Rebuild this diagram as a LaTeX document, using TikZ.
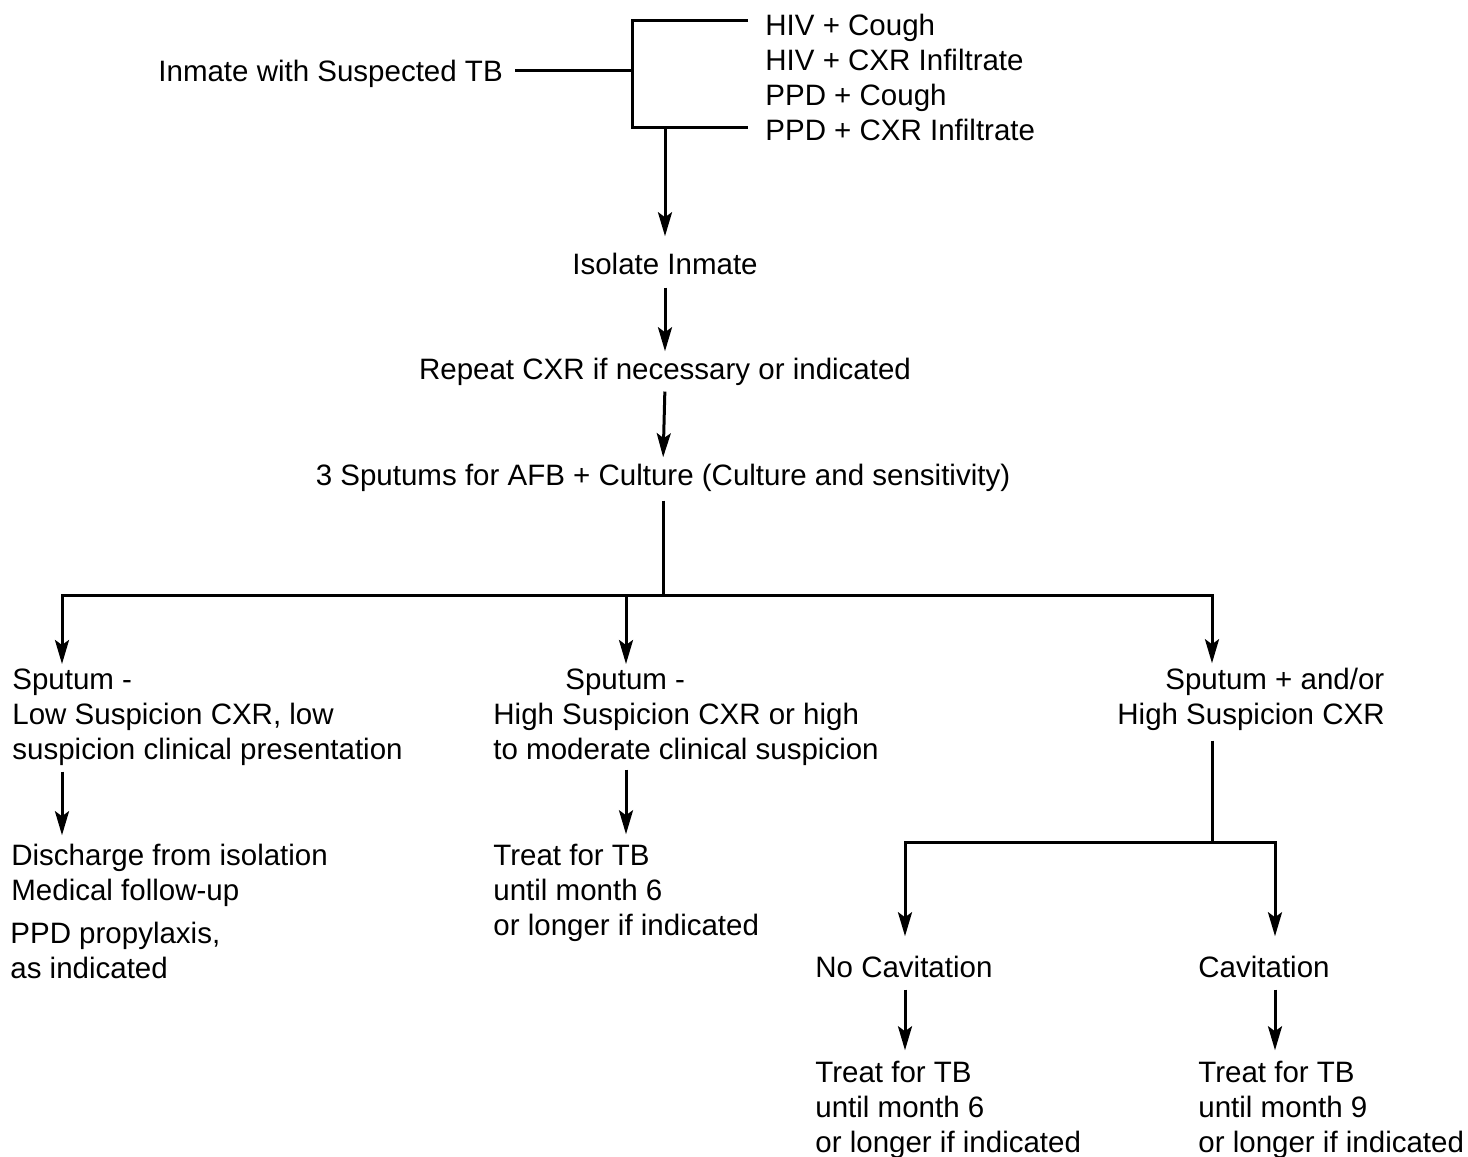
\documentclass[tikz,border=0pt]{standalone}
\usepackage{fontspec}
\setmainfont{Liberation Sans}
\usetikzlibrary{calc}
\usetikzlibrary{arrows.meta}

\begin{document}
\begin{tikzpicture}[x=0.5pt,y=-0.5pt,
  txt/.style={font=\fontsize{14.75pt}{17.5pt}\selectfont, inner sep=0pt, align=left, anchor=base west},
  ln/.style={line width=1.5pt},
  arr/.style={ln, -{Stealth[length=12pt,width=7pt,inset=2.5pt]}, shorten <=3pt, shorten >=3pt}]
\useasboundingbox (0,0) rectangle (1468,1157);

% texts (base of a block = its last line)
\node[txt] (inmate) at (158,81) {Inmate with Suspected TB};
\foreach \t [count=\i] in {HIV + Cough, HIV + CXR Infiltrate, PPD + Cough, PPD + CXR Infiltrate}
\node[txt] (c\i) at (765,{35+35*(\i-1)}) {\t};

\node[txt, anchor=base] (iso) at (665,274) {Isolate Inmate};
\node[txt, anchor=base] (rep) at (665,379) {Repeat CXR if necessary or indicated};
\node[txt, anchor=base] (spt) at (663,485) {3 Sputums for AFB + Culture (Culture and sensitivity)};

\node[txt] (low) at (12,759) {Sputum -\\Low Suspicion CXR, low\\suspicion clinical presentation};
\node[txt] (mid) at (493,759) {\hspace*{36pt}Sputum -\\High Suspicion CXR or high\\to moderate clinical suspicion};
\node[txt] (high) at (1117,724) {\hspace*{24pt}Sputum + and/or\\High Suspicion CXR};

\node[txt] (disc) at (11,900) {Discharge from isolation\\Medical follow-up};
\node[txt] (ppd) at (10,978) {PPD propylaxis,\\as indicated};
\node[txt] (trm) at (493,935) {Treat for TB\\until month 6\\or longer if indicated};

\node[txt] (nocav) at (815,977) {No Cavitation};
\node[txt] (cav) at (1198,977) {Cavitation};
\node[txt] (tr6) at (815,1152) {Treat for TB\\until month 6\\or longer if indicated};
\node[txt] (tr9) at (1198,1152) {Treat for TB\\until month 9\\or longer if indicated};

% junctions
\coordinate (brkT) at (632,20);
\coordinate (brkM) at (632,70.5);
\coordinate (brkB) at (632,127);
\coordinate (dn) at (iso.north |- brkB);
\coordinate (colL) at (62,595);
\coordinate (colM) at (626,595);
\coordinate (colR) at (1212,595);
\coordinate (hub) at (spt.south |- colL);
\coordinate (fork) at (1212,842);
\coordinate (colA) at (905,842);
\coordinate (colB) at (1275,842);

% connectors
\draw[ln, shorten <=6pt] (inmate.east |- brkM) -- (brkM);
\draw[ln, shorten <=8.5pt, shorten >=8.5pt] (c1.west |- brkT) -| (brkB) -- (c4.west |- brkB);
\draw[arr, shorten <=0pt, shorten >=8pt] (dn) -- (iso.north);
\draw[arr, shorten <=6.5pt] (iso.south) -- (rep.north);
\draw[arr] (rep.south) -- (spt.north);
\draw[ln, shorten <=4.5pt] (spt.south) -- (hub);
\draw[arr, shorten <=0pt, shorten >=2pt] (hub) -| (low.north -| colL);
\draw[arr, shorten <=0pt, shorten >=2pt] (hub) -| (high.north -| colR);
\draw[arr, shorten <=0pt, shorten >=2pt] (colM) -- (mid.north -| colM);
\draw[arr, shorten >=4pt] (low.south -| colL) -- (disc.north -| colL);
\draw[arr, shorten <=2pt, shorten >=4.5pt] (mid.south -| colM) -- (trm.north -| colM);
\draw[ln, shorten <=5pt] (high.south -| colR) -- (fork);
\draw[arr, shorten <=0pt, shorten >=9.5pt] (fork) -| (nocav.north -| colA);
\draw[arr, shorten <=0pt, shorten >=9.5pt] (fork) -| (cav.north -| colB);
\draw[arr, shorten <=6pt, shorten >=5pt] (nocav.south -| colA) -- (tr6.north -| colA);
\draw[arr, shorten <=6pt, shorten >=5pt] (cav.south -| colB) -- (tr9.north -| colB);

\end{tikzpicture}
\end{document}
